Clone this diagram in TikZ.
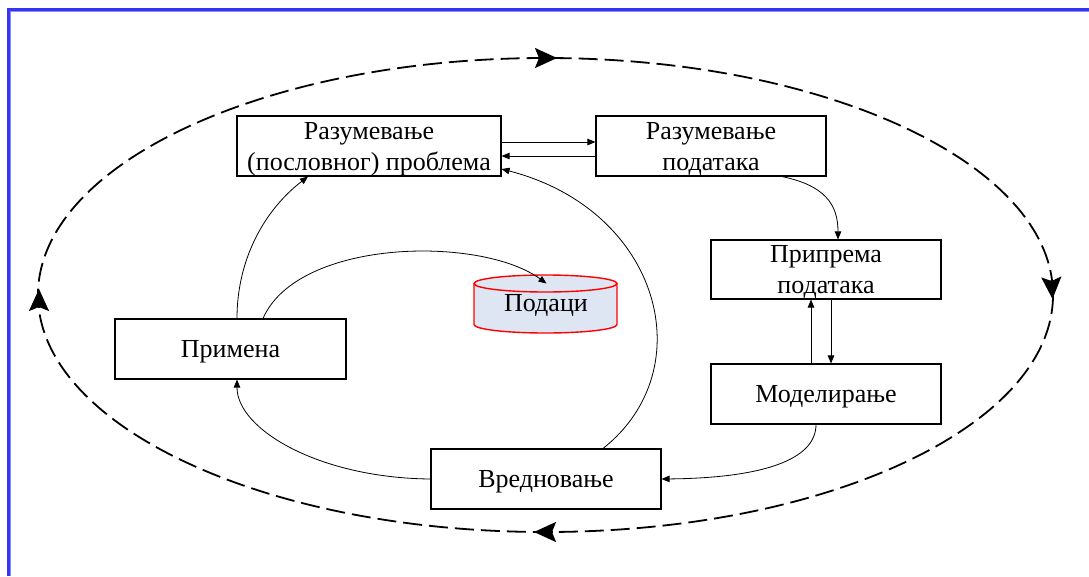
\documentclass[tikz,border=0pt]{standalone}
\usepackage{fontspec}
\setmainfont{Liberation Serif}
\usetikzlibrary{arrows.meta,calc}
\definecolor{framedark}{HTML}{3535F0}
\definecolor{framelight}{HTML}{8C8CF5}
\definecolor{dbfill}{HTML}{DDE6F2}
\definecolor{dbline}{HTML}{FF0000}
\tikzset{bigtip/.tip={Stealth[length=22pt,width=20pt,inset=4pt]}}
\begin{document}
\begin{tikzpicture}[x=1pt,y=-1pt,
  stage/.style={draw, line width=1.1pt, minimum width=230pt, minimum height=60pt,
    align=center, inner sep=0pt, text depth=0pt, font=\fontsize{26}{31}\selectfont},
  flow/.style={line width=0.8pt, -{Triangle[length=8pt,width=6.5pt]}},
  cycle path/.style={line width=1.8pt, dash pattern=on 19pt off 7pt},
  cycle tip/.style={line width=1.8pt, solid, -{bigtip}}
]
\useasboundingbox (0,0) rectangle (1089,576);
% frame along the top and left
\draw[framedark, line width=3pt] (8.5,576) -- (8.5,9.5) -- (1089,9.5);
\draw[framelight, line width=1pt] (10.5,576) -- (10.5,11.5) -- (1089,11.5);

% process stages
\node[stage, minimum width=264pt] (b1) at (369,146) {Разумевање\\(пословног) проблема};
\node[stage] (b2) at (711,146) {Разумевање\\података};
\node[stage, minimum height=59pt] (b3) at (826,269.5) {Припрема\\података};
\node[stage] (b4) at (826,394) {Моделирање};
\node[stage] (b5) at (546,479) {Вредновање};
\node[stage, minimum width=231pt] (b6) at (230.5,349) {Примена};

% data store
\fill[dbfill] (474,283.5) -- (474,324.5) arc[start angle=180, end angle=0, x radius=71.5, y radius=8.5]
  -- (617,283.5) -- cycle;
\fill[dbfill] (545.5,283.5) ellipse [x radius=71.5, y radius=8.5];
\draw[dbline, line width=1.4pt] (474,283.5) -- (474,324.5)
  arc[start angle=180, end angle=0, x radius=71.5, y radius=8.5] -- (617,283.5);
\draw[dbline, line width=1.4pt] (545.5,283.5) ellipse [x radius=71.5, y radius=8.5];
\node[font=\fontsize{26}{31}\selectfont, inner sep=0pt] (db) at (546,305) {Подаци};
\coordinate (dbtop) at (546.5,283.5);

% outer cycle, running clockwise
\draw[cycle path] (545.5,295) ellipse [x radius=507.5, y radius=237];
\draw[cycle tip] (538,58) -- (557,58);
\draw[cycle tip] (1051.5,280) -- (1052.5,299);
\draw[cycle tip] (553,532) -- (534,532);
\draw[cycle tip] (39,308) -- (39,289);

% connectors
\draw[flow] ($(b1.east)+(0,-4)$) -- ($(b2.west)+(0,-4)$);
\draw[flow] ($(b2.west)+(0,10)$) -- ($(b1.east)+(0,10)$);
\draw[flow] ($(b2.south)+(71,0)$) .. controls +(43,9) and +(0,-35) .. ($(b3.north)+(12,0)$);
\draw[flow] ($(b4.north)+(-15,0)$) -- ($(b3.south)+(-15,0)$);
\draw[flow] ($(b3.south)+(5,0)$) -- ($(b4.north)+(5,0)$);
\draw[flow] ($(b4.south)+(-10,0)$) .. controls +(0,36) and +(99,-1) .. (b5.east);
\draw[flow] (b5.west) .. controls +(-111,-1) and +(0,50) .. ($(b6.south)+(6.5,0)$);
\draw[flow] ($(b6.north)+(6.5,0)$) .. controls +(0,-60) and +(-43,33) .. ($(b1.south)+(-61,0)$);
\draw[flow] ($(b6.north)+(32.5,0)$) .. controls +(35,-80) and +(-66,-48) .. (dbtop);
\draw[flow] ($(b5.north)+(57,0)$) .. controls +(100,-79) and +(159,41) .. ($(b1.east)+(0,23)$);
\end{tikzpicture}
\end{document}
